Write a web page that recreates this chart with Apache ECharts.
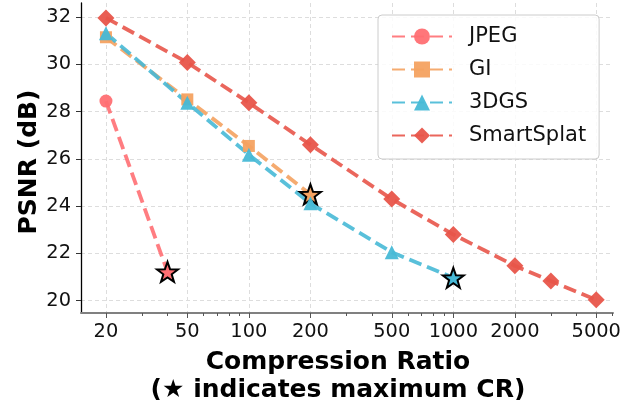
<!DOCTYPE html>
<html>
<head>
<meta charset="utf-8">
<script src="https://cdn.jsdelivr.net/npm/echarts@6/dist/echarts.min.js"></script>
<style>
  html, body { margin: 0; padding: 0; background: #fff; }
  #chart { width: 639px; height: 400px; }
</style>
</head>
<body>
<div id="chart"></div>
<script>
// compression ratios and PSNR (dB) per method
const jpegCR = [20, 40];
const jpegPSNR = [28.45, 21.22];
const giCR = [20, 50, 100, 200];
const giPSNR = [31.15, 28.52, 26.55, 24.5];
const gsCR = [20, 50, 100, 200, 500, 1000];
const gsPSNR = [31.32, 28.38, 26.18, 24.12, 22.05, 20.97];
const ssCR = [20, 50, 100, 200, 500, 1000, 2000, 3000, 5000];
const ssPSNR = [31.97, 30.08, 28.38, 26.6, 24.3, 22.8, 21.48, 20.83, 20.04];

const xMajorTicks = [20, 50, 100, 200, 500, 1000, 2000, 5000];
const xMinorTicks = [30, 40, 60, 70, 80, 90, 300, 400, 600, 700, 800, 900, 3000, 4000, 6000];
const yTicks = [20, 22, 24, 26, 28, 30, 32];

const STAR = 'path://M0,-10L2.35,-3.24L9.51,-3.09L3.8,1.24L5.88,8.09L0,4L-5.88,8.09L-3.8,1.24L-9.51,-3.09L-2.35,-3.24Z';

const chart = echarts.init(document.getElementById('chart'));

// last point of each method is drawn as a star (maximum CR)
const makeData = (xs, ys, starred) => xs.map((x, i) => {
  if (starred && i === xs.length - 1) {
    return {
      value: [x, ys[i]],
      symbol: STAR,
      symbolSize: 21,
      symbolKeepAspect: true,
      itemStyle: { borderColor: '#000', borderWidth: 2, opacity: 1 }
    };
  }
  return [x, ys[i]];
});

const makeSeries = (name, xs, ys, color, symbol, size, starred) => ({
  name: name,
  type: 'line',
  data: makeData(xs, ys, starred),
  symbol: symbol,
  symbolSize: size,
  showAllSymbol: true,
  itemStyle: { color: color, opacity: 0.95 },
  lineStyle: { color: color, width: 3.8, type: [13, 6], opacity: 0.9 },
  emphasis: { disabled: true },
  animation: false
});

const option = {
  animation: false,
  grid: { left: 81, right: 26, top: 3, bottom: 87 },
  legend: {
    orient: 'vertical',
    left: 378,
    top: 15,
    itemWidth: 60,
    itemHeight: 20,
    itemGap: 12,
    padding: [11, 13, 13, 13],
    borderColor: '#cccccc',
    borderWidth: 1,
    borderRadius: 4,
    backgroundColor: 'rgba(255,255,255,0.85)',
    textStyle: { fontFamily: 'DejaVu Sans', fontSize: 21, color: '#111', padding: [0, 0, 0, 12] },
    data: ['JPEG', 'GI', '3DGS', 'SmartSplat']
  },
  xAxis: [{
    type: 'log',
    min: 15.1,
    max: 6040,
    axisLine: { lineStyle: { color: '#808080', width: 2 } },
    axisTick: { show: true, length: 5, lineStyle: { color: '#555' }, customValues: xMajorTicks },
    axisLabel: {
      customValues: xMajorTicks,
      formatter: (v) => String(v),
      margin: 9,
      fontFamily: 'DejaVu Sans',
      fontSize: 19.4,
      color: '#111'
    },
    splitLine: { show: true, lineStyle: { color: '#dddddd', type: [4, 3], width: 1 } },
    minorTick: { show: false }
  }, {
    type: 'log',
    min: 15.1,
    max: 6040,
    position: 'bottom',
    axisLine: { show: false },
    axisTick: { show: true, length: 3, lineStyle: { color: '#555' }, customValues: xMinorTicks },
    axisLabel: { show: false },
    splitLine: { show: false }
  }],
  yAxis: {
    type: 'value',
    min: 19.48,
    max: 32.6,
    axisLine: { show: true, lineStyle: { color: '#000', width: 1.3 } },
    axisTick: { show: true, length: 5, lineStyle: { color: '#333' }, customValues: yTicks },
    axisLabel: {
      customValues: yTicks,
      margin: 10,
      fontFamily: 'DejaVu Sans',
      fontSize: 19.4,
      color: '#111'
    },
    splitLine: { show: true, lineStyle: { color: '#dddddd', type: [4, 3], width: 1 } }
  },
  graphic: [{
    type: 'text',
    x: 338,
    y: 348,
    style: {
      text: 'Compression Ratio\n(★ indicates maximum CR)',
      fontFamily: 'DejaVu Sans',
      fontWeight: 'bold',
      fontSize: 25,
      lineHeight: 28,
      align: 'center',
      verticalAlign: 'top',
      fill: '#000'
    }
  }, {
    type: 'text',
    x: 29,
    y: 162,
    rotation: Math.PI / 2,
    style: {
      text: 'PSNR (dB)',
      fontFamily: 'DejaVu Sans',
      fontWeight: 'bold',
      fontSize: 25,
      align: 'center',
      verticalAlign: 'middle',
      fill: '#000'
    }
  }],
  series: [
    makeSeries('JPEG', jpegCR, jpegPSNR, '#ff6f73', 'circle', 13, true),
    makeSeries('GI', giCR, giPSNR, '#f4a261', 'rect', 12, true),
    makeSeries('3DGS', gsCR, gsPSNR, '#47b9d6', 'triangle', 14, true),
    makeSeries('SmartSplat', ssCR, ssPSNR, '#e8554a', 'diamond', 17, false)
  ]
};

chart.setOption(option);
</script>
</body>
</html>
